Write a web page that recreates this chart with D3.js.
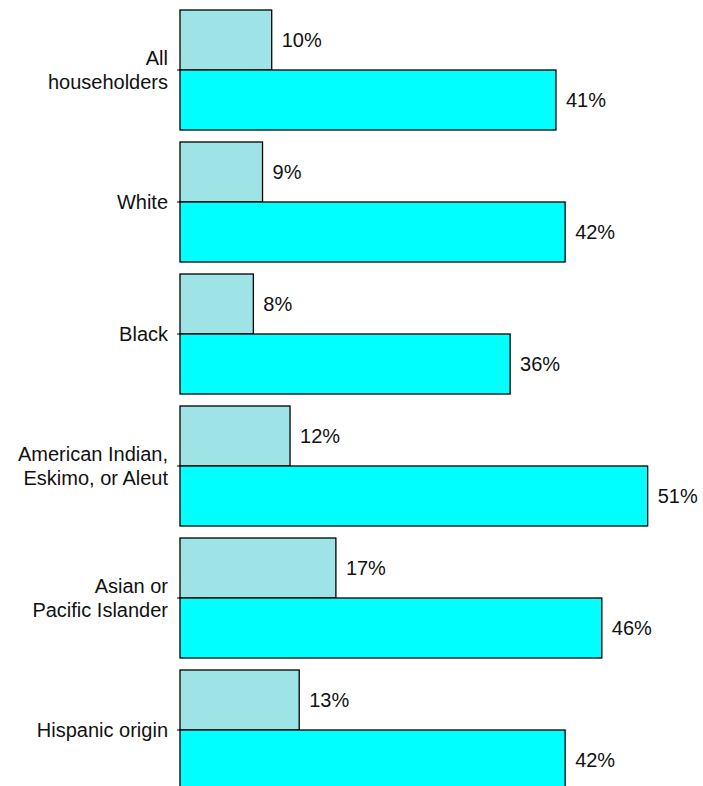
<!DOCTYPE html>
<html>
<head>
<meta charset="utf-8">
<script src="https://cdn.jsdelivr.net/npm/d3@7"></script>
<style>
  body { margin: 0; background: #fff; }
  text { font-family: "Liberation Sans", Arial, sans-serif; fill: #111; }
</style>
</head>
<body>
<div class="chart"></div>
<script>
// Step 0: chart setup
var svgWidth = 703;
var svgHeight = 786;

// Data
var categories = [
  ["All", "householders"],
  ["White"],
  ["Black"],
  ["American Indian,", "Eskimo, or Aleut"],
  ["Asian or", "Pacific Islander"],
  ["Hispanic origin"]
];
var seriesNames = ["first", "second"];
var firstValues = [10, 9, 8, 12, 17, 13];
var secondValues = [41, 42, 36, 51, 46, 42];
var colors = ["#9ee4e6", "#00ffff"];

var svg = d3.select(".chart")
  .append("svg")
  .attr("width", svgWidth)
  .attr("height", svgHeight);

var keys = categories.map(function(c) { return c.join(" "); });

// scales
var yScale = d3.scaleBand()
  .domain(keys)
  .range([10, 790])
  .paddingInner(12 / 132)
  .paddingOuter(0);

var ySub = d3.scaleBand()
  .domain(seriesNames)
  .range([0, yScale.bandwidth()]);

var xScale = d3.scaleLinear()
  .domain([0, 100])
  .range([180, 180 + 917]);

var rows = keys.map(function(k, i) {
  return { key: k, lines: categories[i], values: [firstValues[i], secondValues[i]] };
});

var groups = svg.selectAll("g.group")
  .data(rows)
  .enter()
  .append("g")
  .attr("class", "group")
  .attr("transform", function(d) { return "translate(0," + yScale(d.key) + ")"; });

// bars
groups.selectAll("rect")
  .data(function(d) { return d.values.map(function(v, j) { return { v: v, s: seriesNames[j], j: j }; }); })
  .enter()
  .append("rect")
  .attr("x", xScale(0))
  .attr("y", function(d) { return ySub(d.s); })
  .attr("width", function(d) { return xScale(d.v) - xScale(0); })
  .attr("height", ySub.bandwidth())
  .attr("fill", function(d) { return colors[d.j]; })
  .attr("stroke", "#000")
  .attr("stroke-width", 1.3);

// small category ticks on the left, no domain line
var leftAxis = d3.axisLeft(yScale).tickSize(3).tickFormat("");
svg.append("g")
  .attr("transform", "translate(" + xScale(0) + ",0)")
  .call(leftAxis)
  .call(function(g) { g.select(".domain").remove(); });

// value labels
groups.selectAll("text.value")
  .data(function(d) { return d.values.map(function(v, j) { return { v: v, s: seriesNames[j] }; }); })
  .enter()
  .append("text")
  .attr("class", "value")
  .attr("x", function(d) { return xScale(d.v) + 10; })
  .attr("y", function(d) { return ySub(d.s) + ySub.bandwidth() / 2; })
  .attr("dy", "0.35em")
  .style("font-size", "20px")
  .text(function(d) { return d.v + "%"; });

// category labels, centred on the line between the two bars
var labels = groups.append("text")
  .attr("class", "cat")
  .attr("text-anchor", "end")
  .style("font-size", "20px")
  .attr("y", yScale.bandwidth() / 2);

labels.selectAll("tspan")
  .data(function(d) { return d.lines; })
  .enter()
  .append("tspan")
  .attr("x", 168)
  .attr("dy", function(d, i, nodes) {
    var n = nodes.length;
    if (i === 0) return (0.35 - (n - 1) * 0.6) + "em";
    return "1.2em";
  })
  .text(function(d) { return d; });
</script>
</body>
</html>
